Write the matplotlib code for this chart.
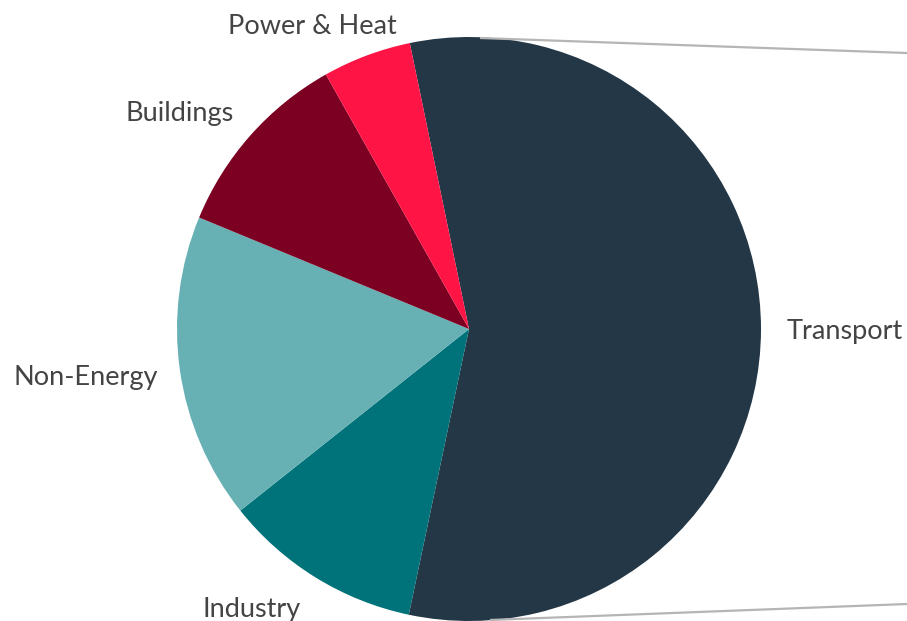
import matplotlib.pyplot as plt

# sector shares (%)
sectors = ["Transport", "Industry", "Non-Energy", "Buildings", "Power & Heat"]
shares = [56.5, 11.0, 16.9, 10.6, 4.9]
colors = ["#243746", "#00727a", "#67b1b5", "#7b0021", "#ff1446"]

# label centres in pixels (x, y from top)
label_pos = {
    "Transport": (845, 332),
    "Industry": (252, 610),
    "Non-Energy": (86, 378),
    "Buildings": (180, 114),
    "Power & Heat": (312, 26),
}

W, H = 907, 621
fig = plt.figure(figsize=(W / 100, H / 100), dpi=100)
ax = fig.add_axes([0, 0, 1, 1])

cx, cy, r = 469, H - 329, 292
ax.pie(shares, colors=colors, startangle=101.7, counterclock=False,
       center=(cx, cy), radius=r, frame=True,
       wedgeprops={"linewidth": 0})
ax.set_xlim(0, W)
ax.set_ylim(0, H)
ax.set_aspect("equal")
ax.axis("off")

# connector lines running off to the right (cropped detail)
ax.plot([480, W], [H - 38, H - 53], color="#b5b5b5", lw=1.6, solid_capstyle="butt")
ax.plot([490, W], [H - 620, H - 604], color="#b5b5b5", lw=1.6, solid_capstyle="butt")

for name in sectors:
    x, y = label_pos[name]
    ax.text(x, H - y, name, ha="center", va="center", fontsize=19.5,
            color="#444444", family="Lato")

fig.savefig("out.png", dpi=100)
